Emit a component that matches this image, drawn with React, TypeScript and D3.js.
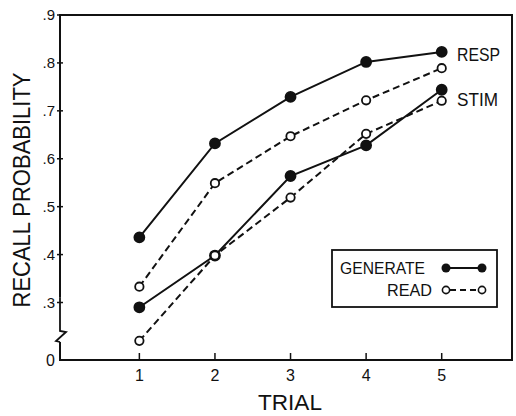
import * as d3 from "d3";

const trials = [1, 2, 3, 4, 5];
const yTicks = [0.3, 0.4, 0.5, 0.6, 0.7, 0.8, 0.9];
const yTickLabels = [".3", ".4", ".5", ".6", ".7", ".8", ".9"];

const generateResp = [0.436, 0.632, 0.729, 0.802, 0.823];
const readResp = [0.333, 0.549, 0.647, 0.722, 0.789];
const generateStim = [0.29, 0.398, 0.564, 0.628, 0.744];
const readStim = [0.22, 0.398, 0.519, 0.652, 0.721];

const series = [
  { name: "generate-resp", values: generateResp, filled: true },
  { name: "read-resp", values: readResp, filled: false },
  { name: "generate-stim", values: generateStim, filled: true },
  { name: "read-stim", values: readStim, filled: false },
];

const ink = "#111";
const font = "'Liberation Sans', Arial, sans-serif";

export default function App() {
  const left = 60, right = 512, top = 15, bottom = 360;

  const x = d3.scaleLinear().domain([-0.05, 5.93]).range([left, right]);
  const y = d3.scaleLinear().domain([0.18, 0.9]).range([bottom, top]);

  const line = d3
    .line<number>()
    .x((_, i) => x(trials[i]))
    .y((d) => y(d));

  return (
    <svg
      width={516}
      height={416}
      style={{ position: "absolute", left: 0, top: 0, background: "#fff" }}
    >
      {/* frame */}
      <path
        d={`M${left},${y(0.31)} V${top} H${right} V${bottom} H${left} V${bottom - 18}`}
        fill="none"
        stroke={ink}
        strokeWidth={2}
      />
      {/* axis break */}
      <path
        d={`M${left},${y(0.31)} L${left},${bottom - 29} L${left + 6},${bottom - 28} L${left - 4},${bottom - 19} L${left},${bottom - 18}`}
        fill="none"
        stroke={ink}
        strokeWidth={1.8}
      />

      {/* y ticks */}
      {yTicks.map((t, i) => (
        <g key={t}>
          <line x1={left - 3} x2={left + 3} y1={y(t)} y2={y(t)} stroke={ink} strokeWidth={1.5} />
          <text
            x={left - 5}
            y={y(t)}
            dy="0.35em"
            textAnchor="end"
            fontFamily={font}
            fontSize={15}
            fill={ink}
          >
            {yTickLabels[i]}
          </text>
        </g>
      ))}
      <text x={left - 5} y={bottom} dy="0.35em" textAnchor="end" fontFamily={font} fontSize={16} fill={ink}>
        0
      </text>

      {/* x ticks */}
      {trials.map((t) => (
        <g key={t}>
          <line x1={x(t)} x2={x(t)} y1={bottom} y2={bottom - 7} stroke={ink} strokeWidth={1.5} />
          <text x={x(t)} y={bottom + 21} textAnchor="middle" fontFamily={font} fontSize={16} fill={ink}>
            {t}
          </text>
        </g>
      ))}

      <text
        x={290}
        y={410}
        textAnchor="middle"
        fontFamily={font}
        fontSize={22}
        textLength={64}
        lengthAdjust="spacingAndGlyphs"
        fill={ink}
      >
        TRIAL
      </text>
      <text
        transform="translate(30,190) rotate(-90)"
        textAnchor="middle"
        fontFamily={font}
        fontSize={24}
        textLength={235}
        lengthAdjust="spacingAndGlyphs"
        fill={ink}
      >
        RECALL PROBABILITY
      </text>

      {/* series */}
      {series.map((s) => (
        <g key={s.name}>
          <path
            d={line(s.values) ?? ""}
            fill="none"
            stroke={ink}
            strokeWidth={2}
            strokeDasharray={s.filled ? undefined : "7,4"}
          />
          {s.values.map((v, i) => (
            <circle
              key={i}
              cx={x(trials[i])}
              cy={y(v)}
              r={s.filled ? 5 : 4.2}
              fill={s.filled ? ink : "#fff"}
              stroke={ink}
              strokeWidth={1.8}
            />
          ))}
        </g>
      ))}

      <text x={457} y={61} fontFamily={font} fontSize={18} textLength={43} lengthAdjust="spacingAndGlyphs" fill={ink}>
        RESP
      </text>
      <text x={457} y={106} fontFamily={font} fontSize={18} textLength={41} lengthAdjust="spacingAndGlyphs" fill={ink}>
        STIM
      </text>

      {/* legend */}
      <rect x={332} y={250} width={165} height={57} fill="#fff" stroke={ink} strokeWidth={1.8} />
      <text x={340} y={274} fontFamily={font} fontSize={17} textLength={85} lengthAdjust="spacingAndGlyphs" fill={ink}>
        GENERATE
      </text>
      <text x={432} y={296} textAnchor="end" fontFamily={font} fontSize={17} textLength={45} lengthAdjust="spacingAndGlyphs" fill={ink}>
        READ
      </text>
      <line x1={446} x2={482} y1={268} y2={268} stroke={ink} strokeWidth={1.8} />
      <circle cx={446} cy={268} r={4.5} fill={ink} />
      <circle cx={482} cy={268} r={4.5} fill={ink} />
      <line x1={450} x2={478} y1={290} y2={290} stroke={ink} strokeWidth={1.8} strokeDasharray="6,4" />
      <circle cx={446} cy={290} r={3.6} fill="#fff" stroke={ink} strokeWidth={1.6} />
      <circle cx={482} cy={290} r={3.6} fill="#fff" stroke={ink} strokeWidth={1.6} />
    </svg>
  );
}
